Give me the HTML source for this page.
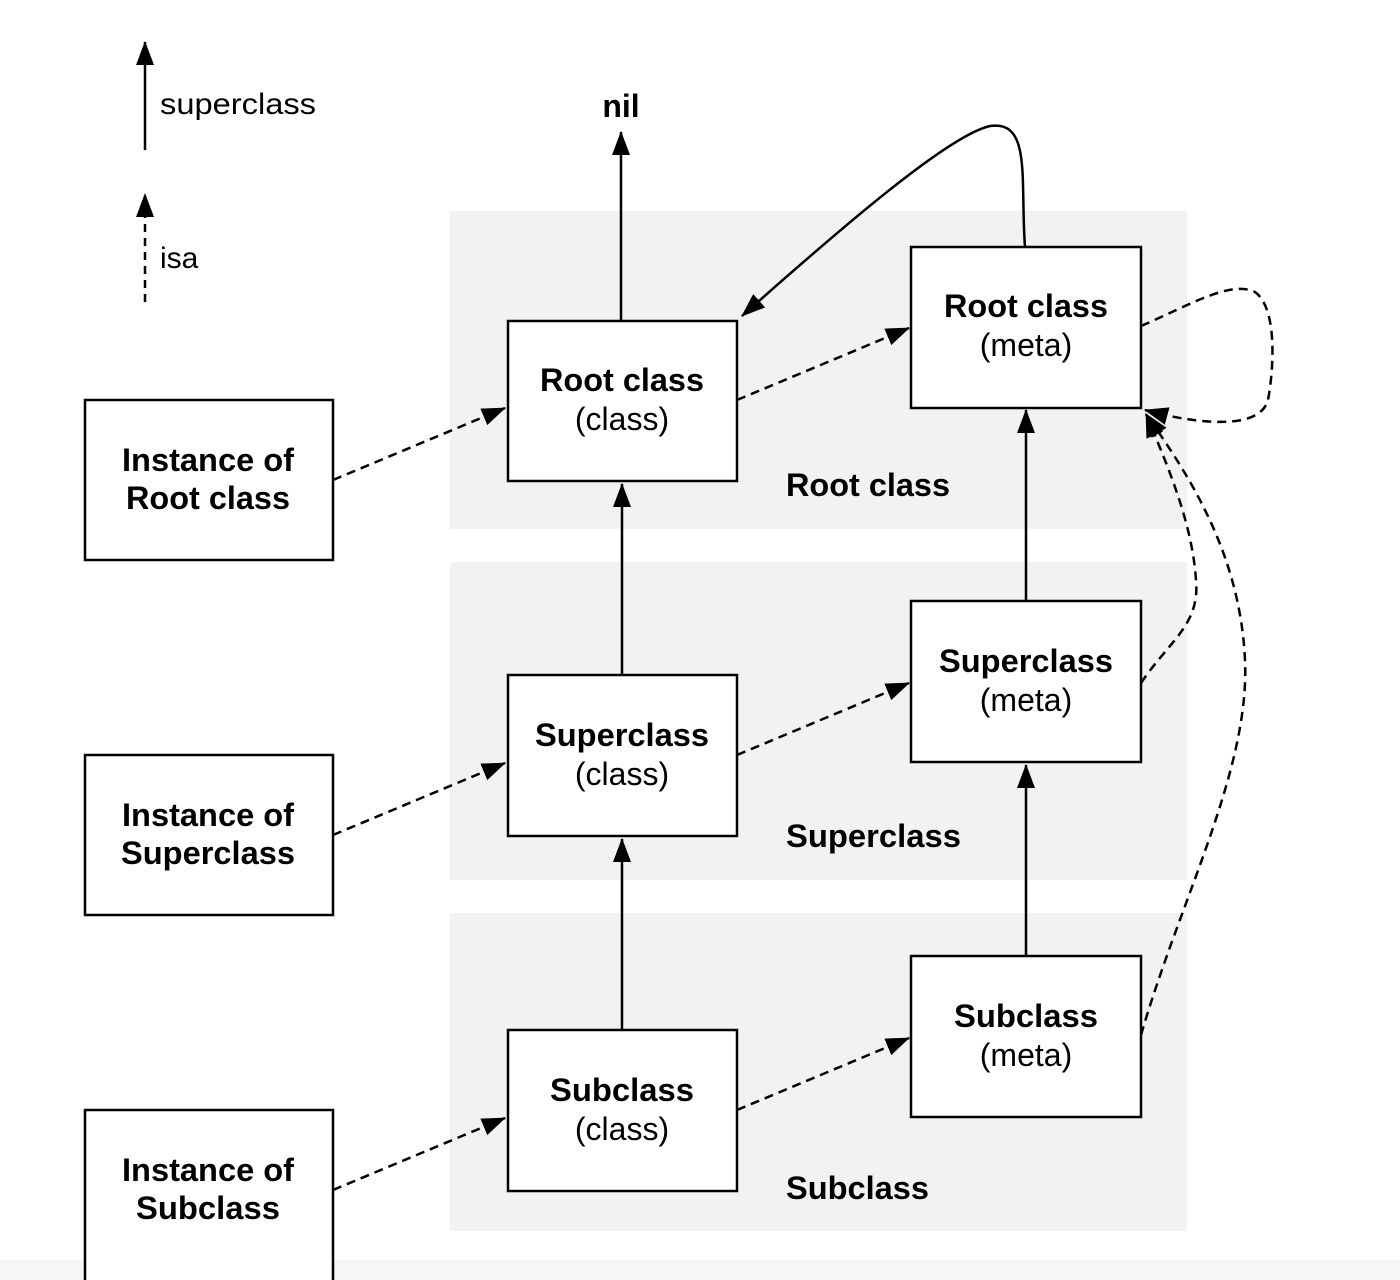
<!DOCTYPE html>
<html><head><style>body{margin:0;background:#fff}svg{display:block}text{font-family:"Liberation Sans",Arial,sans-serif;fill:#000}</style></head><body>
<svg width="1400" height="1280" viewBox="0 0 1400 1280" xmlns="http://www.w3.org/2000/svg">
<defs>
<marker id="b" markerWidth="24" markerHeight="24" refX="23" refY="12" orient="auto" markerUnits="userSpaceOnUse" viewBox="0 0 24 24"><path d="M0,3 L24,12 L0,21 z" fill="#000"/></marker>
</defs>
<rect x="0" y="1260" width="1400" height="20" fill="#f6f6f6"/>
<rect x="450" y="211" width="737" height="318" fill="#f2f2f2"/>
<rect x="450" y="562" width="737" height="318" fill="#f2f2f2"/>
<rect x="450" y="913" width="737" height="318" fill="#f2f2f2"/>
<g fill="none" stroke="#000" stroke-width="2.5">
<line x1="145" y1="150" x2="145" y2="42" marker-end="url(#b)"/>
<line x1="145" y1="302" x2="145" y2="194" stroke-dasharray="8,6" marker-end="url(#b)"/>
<line x1="621" y1="321" x2="621" y2="132" marker-end="url(#b)"/>
<line x1="622" y1="675" x2="622" y2="484" marker-end="url(#b)"/>
<line x1="622" y1="1030" x2="622" y2="839" marker-end="url(#b)"/>
<line x1="1026" y1="601" x2="1026" y2="410" marker-end="url(#b)"/>
<line x1="1026" y1="956" x2="1026" y2="765" marker-end="url(#b)"/>
<g stroke-dasharray="9,6">
<line x1="333" y1="480" x2="505" y2="408" marker-end="url(#b)"/>
<line x1="333" y1="835" x2="505" y2="763" marker-end="url(#b)"/>
<line x1="333" y1="1190" x2="505" y2="1118" marker-end="url(#b)"/>
<line x1="737" y1="400" x2="909" y2="328" marker-end="url(#b)"/>
<line x1="737" y1="755" x2="909" y2="683" marker-end="url(#b)"/>
<line x1="737" y1="1110" x2="909" y2="1038" marker-end="url(#b)"/>
<path d="M1141,326 C1190,305 1230,280 1255,292 C1280,310 1272,380 1268,400 C1260,430 1200,425 1145,410" marker-end="url(#b)"/>
<path d="M1141,683 C1170,640 1200,625 1196,580 C1192,520 1165,460 1146,414" marker-end="url(#b)"/>
<path d="M1141,1035 C1180,900 1250,770 1245,660 C1240,550 1185,470 1146,414" marker-end="url(#b)"/>
</g>
<path d="M1025,247 C1020,180 1032,120 990,126 C950,135 850,220 742,316" marker-end="url(#b)"/>
</g>
<g fill="#fff" stroke="#000" stroke-width="2.5">
<rect x="85" y="400" width="248" height="160"/>
<rect x="85" y="755" width="248" height="160"/>
<rect x="85" y="1110" width="248" height="175"/>
<rect x="508" y="321" width="229" height="160"/>
<rect x="508" y="675" width="229" height="161"/>
<rect x="508" y="1030" width="229" height="161"/>
<rect x="911" y="247" width="230" height="161"/>
<rect x="911" y="601" width="230" height="161"/>
<rect x="911" y="956" width="230" height="161"/>
</g>
<g font-size="32" text-anchor="middle">
<text x="621" y="117" font-weight="bold">nil</text>
<text x="208" y="471" font-weight="bold" textLength="172" lengthAdjust="spacingAndGlyphs">Instance of</text><text x="208" y="509" font-weight="bold" textLength="164" lengthAdjust="spacingAndGlyphs">Root class</text>
<text x="208" y="826" font-weight="bold" textLength="172" lengthAdjust="spacingAndGlyphs">Instance of</text><text x="208" y="864" font-weight="bold" textLength="174" lengthAdjust="spacingAndGlyphs">Superclass</text>
<text x="208" y="1181" font-weight="bold" textLength="172" lengthAdjust="spacingAndGlyphs">Instance of</text><text x="208" y="1219" font-weight="bold" textLength="144" lengthAdjust="spacingAndGlyphs">Subclass</text>
<text x="622" y="391" font-weight="bold" textLength="164" lengthAdjust="spacingAndGlyphs">Root class</text><text x="622" y="430">(class)</text>
<text x="622" y="746" font-weight="bold" textLength="174" lengthAdjust="spacingAndGlyphs">Superclass</text><text x="622" y="785">(class)</text>
<text x="622" y="1101" font-weight="bold" textLength="144" lengthAdjust="spacingAndGlyphs">Subclass</text><text x="622" y="1140">(class)</text>
<text x="1026" y="317" font-weight="bold" textLength="164" lengthAdjust="spacingAndGlyphs">Root class</text><text x="1026" y="356">(meta)</text>
<text x="1026" y="672" font-weight="bold" textLength="174" lengthAdjust="spacingAndGlyphs">Superclass</text><text x="1026" y="711">(meta)</text>
<text x="1026" y="1027" font-weight="bold" textLength="144" lengthAdjust="spacingAndGlyphs">Subclass</text><text x="1026" y="1066">(meta)</text>
</g>
<g font-size="32" font-weight="bold">
<text x="786" y="496" textLength="164" lengthAdjust="spacingAndGlyphs">Root class</text>
<text x="786" y="847" textLength="175" lengthAdjust="spacingAndGlyphs">Superclass</text>
<text x="786" y="1199" textLength="143" lengthAdjust="spacingAndGlyphs">Subclass</text>
</g>
<g font-size="30">
<text x="160" y="114" textLength="156" lengthAdjust="spacingAndGlyphs">superclass</text>
<text x="160" y="268">isa</text>
</g>
</svg>
</body></html>
